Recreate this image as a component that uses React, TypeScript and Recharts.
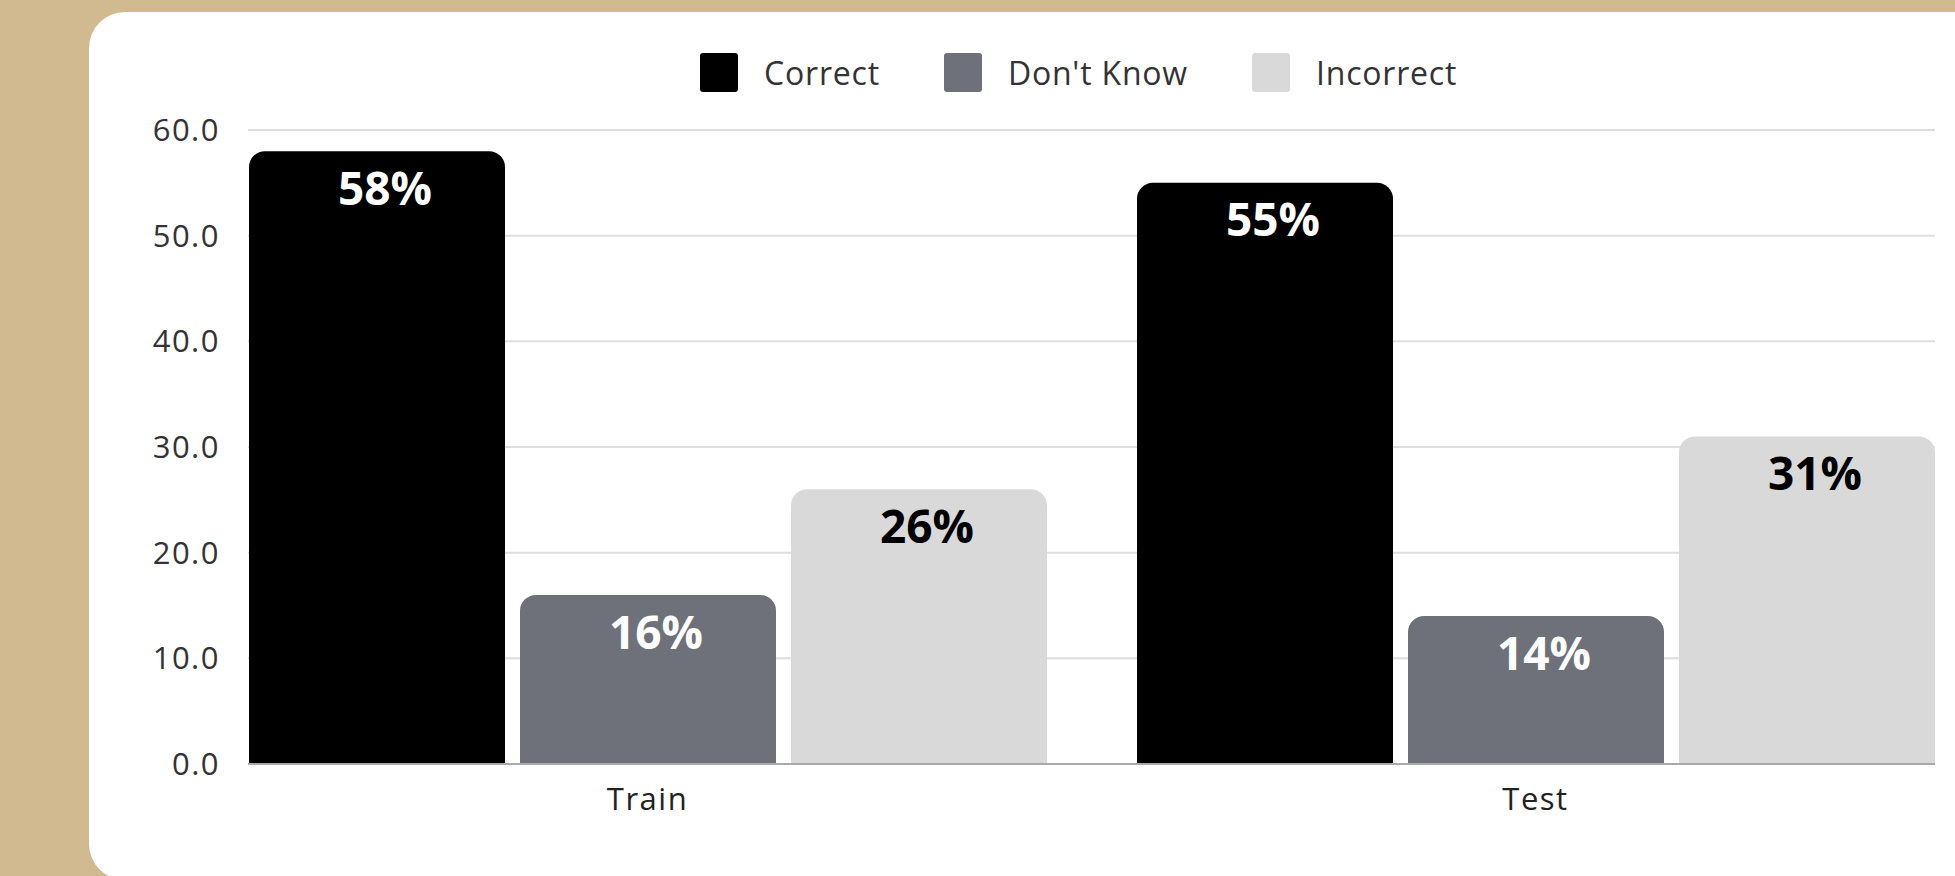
import React from 'react';
import { BarChart, Bar, XAxis, YAxis, CartesianGrid, Legend, LabelList } from 'recharts';

const categories = ['Train', 'Test'];
const correct = [58, 55];
const dontKnow = [16, 14];
const incorrect = [26, 31];
const yTicks = [0, 10, 20, 30, 40, 50, 60];

const seriesNames = ['Correct', "Don't Know", 'Incorrect'];
const seriesColors = ['#000000', '#6F717A', '#D9D9D9'];
const labelColors = ['#FFFFFF', '#FFFFFF', '#000000'];

const data = categories.map((c, i) => ({
  name: c,
  correct: correct[i],
  dontKnow: dontKnow[i],
  incorrect: incorrect[i],
}));

const keys = ['correct', 'dontKnow', 'incorrect'];
const FONT = '"Open Sans", "DejaVu Sans", sans-serif';

const LegendContent = () => (
  <div style={{ display: 'flex', alignItems: 'center', fontFamily: FONT }}>
    {seriesNames.map((n, i) => (
      <div key={n} style={{ display: 'flex', alignItems: 'center', marginRight: i < 2 ? 64 : 0 }}>
        <div style={{ width: 38, height: 39, background: seriesColors[i], borderRadius: 3, marginRight: 26 }} />
        <span style={{ fontSize: 32, color: '#333', letterSpacing: 0.8, whiteSpace: 'nowrap' }}>{n}</span>
      </div>
    ))}
  </div>
);

export default function App() {
  return (
    <div style={{ position: 'absolute', left: 0, top: 0, width: 1955, height: 876, overflow: 'hidden', background: '#D1BA90' }}>
      <div style={{ position: 'absolute', left: 89, top: 12, width: 1960, height: 868, background: '#FFFFFF', borderRadius: 36 }} />
      <div style={{ position: 'absolute', left: 0, top: 0 }}>
        <BarChart
          width={1955}
          height={876}
          data={data}
          margin={{ top: 130, right: 20, left: 148, bottom: 52 }}
          barCategoryGap={45.5}
          barGap={15}
        >
          <CartesianGrid vertical={false} stroke="#DEDEDE" strokeWidth={2} />
          <XAxis
            dataKey="name"
            padding={{ left: -44.5, right: -44.5 }}
            axisLine={{ stroke: '#AAAAAA', strokeWidth: 2 }}
            tickLine={false}
            tickSize={6}
            tickMargin={18}
            height={60}
            tick={{ fontSize: 31, fill: '#222', fontFamily: FONT, letterSpacing: 1.5 }}
          />
          <YAxis
            domain={[0, 60]}
            ticks={yTicks}
            width={100}
            axisLine={false}
            tickLine={false}
            tickSize={6}
            tickMargin={22}
            tickFormatter={(v) => Number(v).toFixed(1)}
            tick={{ fontSize: 31, fill: '#333', fontFamily: FONT, letterSpacing: 1.5 }}
          />
          <Legend
            layout="horizontal"
            verticalAlign="middle"
            align="center"
            content={<LegendContent />}
            wrapperStyle={{ top: 51, left: 700, width: 1000, height: 40 }}
          />
          {keys.map((k, i) => (
            <Bar key={k} dataKey={k} name={seriesNames[i]} fill={seriesColors[i]} radius={[16, 16, 0, 0]} isAnimationActive={false}>
              <LabelList
                dataKey={k}
                position="insideTop"
                offset={21}
                dx={8}
                formatter={(v: any) => `${v}%`}
                fill={labelColors[i]}
                style={{ fontSize: 46, fontWeight: 700, fontFamily: FONT }}
              />
            </Bar>
          ))}
        </BarChart>
      </div>
    </div>
  );
}
